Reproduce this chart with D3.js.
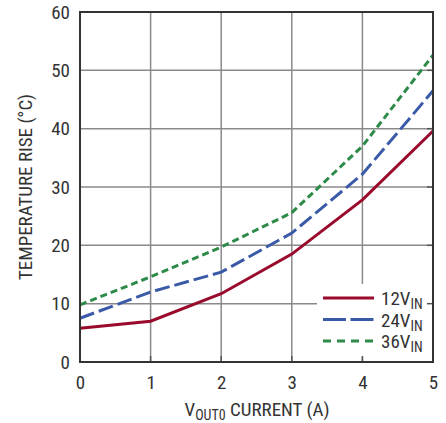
<!DOCTYPE html>
<html><head><meta charset="utf-8">
<script src="https://cdn.jsdelivr.net/npm/d3@7"></script>
<style>body{margin:0;background:#fff}svg{display:block}
text{font-family:"Liberation Sans Narrow","Arial Narrow","Roboto Condensed",sans-serif;fill:#333}</style>
</head><body><svg id="c" width="446" height="423"></svg>
<script>
const currents = [0, 1, 2, 3, 4, 5];
const rise12 = [5.8, 7.0, 11.7, 18.5, 27.8, 39.6];
const rise24 = [7.5, 12.0, 15.4, 22.1, 32.2, 46.5];
const rise36 = [9.8, 14.6, 19.7, 25.6, 37.0, 52.6];
const xTicks = [0, 1, 2, 3, 4, 5];
const yTicks = [0, 10, 20, 30, 40, 50, 60];
const seriesNames = ["12", "24", "36"];

const svg = d3.select("#c");
const L = 80, R = 433, T = 12, B = 362;
const FS = 19, SUB = 14;
const x = d3.scaleLinear().domain([0, 5]).range([L, R]);
const y = d3.scaleLinear().domain([0, 60]).range([B, T]);

// grid
const grid = svg.append("g").attr("stroke", "#8a8a8a").attr("stroke-width", 1.5);
grid.selectAll(".gx").data(xTicks.slice(1, -1)).join("line")
  .attr("x1", d => x(d)).attr("x2", d => x(d)).attr("y1", T).attr("y2", B);
grid.selectAll(".gy").data(yTicks.slice(1, -1)).join("line")
  .attr("y1", d => y(d)).attr("y2", d => y(d)).attr("x1", L).attr("x2", R);

// series
const series = [
  {name: seriesNames[0], vals: rise12, color: "#9a0a2c", dash: null},
  {name: seriesNames[1], vals: rise24, color: "#3a5aa8", dash: "15,5"},
  {name: seriesNames[2], vals: rise36, color: "#2e8a48", dash: "7,4"}
];
const line = d3.line().x((d, i) => x(currents[i])).y(d => y(d));
svg.append("g").selectAll("path").data(series).join("path")
  .attr("d", d => line(d.vals)).attr("fill", "none")
  .attr("stroke", d => d.color).attr("stroke-width", 3)
  .attr("stroke-dasharray", d => d.dash);

// legend box
const lg = svg.append("g");
lg.append("rect").attr("x", 317).attr("y", 284).attr("width", R - 317).attr("height", B - 284 - 5).attr("fill", "#fff");
series.forEach((s, i) => {
  const ly = 298 + i * 21.5;
  lg.append("line").attr("x1", 323).attr("x2", 374).attr("y1", ly).attr("y2", ly)
    .attr("stroke", s.color).attr("stroke-width", 3).attr("stroke-dasharray", s.dash ? (i === 1 ? "23,4.5" : "8,6") : null);
  const t = lg.append("text").attr("x", 381).attr("y", ly + 7).attr("font-size", FS);
  t.append("tspan").text(s.name + "V");
  t.append("tspan").attr("font-size", SUB).attr("dy", 4).text("IN");
});

// axes (labels only; inner tick stubs drawn below)
const xAxis = d3.axisBottom(x).tickValues(xTicks).tickFormat(d3.format("d")).tickSize(0).tickPadding(14);
const yAxis = d3.axisLeft(y).tickValues(yTicks).tickFormat(d3.format("d")).tickSize(0).tickPadding(10);
const gx = svg.append("g").attr("transform", `translate(0,${B})`).call(xAxis);
const gy = svg.append("g").attr("transform", `translate(${L},0)`).call(yAxis);
[gx, gy].forEach(g => { g.select(".domain").remove(); g.selectAll("text").attr("font-size", FS).attr("fill", "#333")
  .attr("font-family", '"Liberation Sans Narrow","Arial Narrow",sans-serif'); });
gx.selectAll("text").attr("dy", "0.71em");

// inner tick stubs
const tk = svg.append("g").attr("stroke", "#555").attr("stroke-width", 1.5);
tk.selectAll(".tb").data(xTicks.slice(1, -1)).join("line")
  .attr("x1", d => x(d)).attr("x2", d => x(d)).attr("y1", B).attr("y2", B - 6);
tk.selectAll(".tr").data(yTicks.slice(1, -1)).join("line")
  .attr("y1", d => y(d)).attr("y2", d => y(d)).attr("x1", R).attr("x2", R - 6);

// frame
svg.append("rect").attr("x", L).attr("y", T).attr("width", R - L).attr("height", B - T)
  .attr("fill", "none").attr("stroke", "#333").attr("stroke-width", 2);

// axis titles
const xt = svg.append("text").attr("x", 257).attr("y", 416).attr("text-anchor", "middle").attr("font-size", FS);
xt.append("tspan").text("V");
xt.append("tspan").attr("font-size", SUB).attr("dy", 4).text("OUT0");
xt.append("tspan").attr("dy", -4).text(" CURRENT (A)");

svg.append("text").attr("transform", "translate(32,187) rotate(-90)").attr("text-anchor", "middle")
  .attr("font-size", FS).text("TEMPERATURE RISE (°C)");
</script></body></html>
